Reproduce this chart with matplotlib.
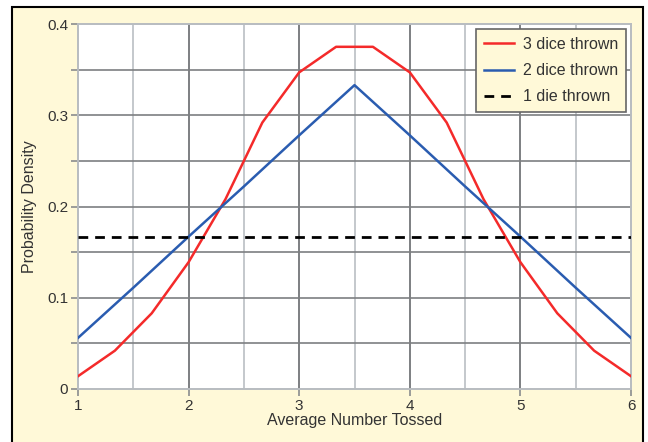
import matplotlib
matplotlib.use("Agg")
import matplotlib.pyplot as plt
from matplotlib.patches import Rectangle

plt.rcParams['font.family'] = ['Liberation Sans', 'DejaVu Sans']

x3 = [1, 4/3, 5/3, 2, 7/3, 8/3, 3, 10/3, 11/3, 4, 13/3, 14/3, 5, 16/3, 17/3, 6]
y3 = [0.014, 0.042, 0.083, 0.139, 0.208, 0.292, 0.347, 0.375, 0.375, 0.347,
      0.292, 0.208, 0.139, 0.083, 0.042, 0.014]
x2 = [1, 1.5, 2, 2.5, 3, 3.5, 4, 4.5, 5, 5.5, 6]
y2 = [0.056, 0.111, 0.167, 0.222, 0.278, 0.333, 0.278, 0.222, 0.167, 0.111, 0.056]
x1 = [1, 6]
y1 = [0.1667, 0.1667]
xticks = [1, 2, 3, 4, 5, 6]
yticks = [0, 0.1, 0.2, 0.3, 0.4]
yticklabels = ['0', '0.1', '0.2', '0.3', '0.4']

bg = '#fff9d8'
fig = plt.figure(figsize=(6.48, 4.42), dpi=100)
fig.patch.set_facecolor('white')
fig.patches.append(Rectangle((12/648, -0.05), (643-12)/648, 1 - 7/442 + 0.05,
                             transform=fig.transFigure, facecolor=bg,
                             edgecolor='black', linewidth=1.5, zorder=-10))

ax = fig.add_axes([78/648, 1 - 389/442, (631-78)/648, (389-24)/442])
ax.set_facecolor('white')
ax.set_xlim(1, 6)
ax.set_ylim(0, 0.4)

# grid
for v in [1.5, 2.5, 3.5, 4.5, 5.5]:
    ax.axvline(v, color='#c4c8cc', lw=1.4, zorder=1)
for v in [2, 3, 4, 5]:
    ax.axvline(v, color='#7d7f82', lw=1.4, zorder=1)
for v in [0.05, 0.1, 0.15, 0.2, 0.25, 0.3, 0.35]:
    ax.axhline(v, color='#7d7f82', lw=1.2, zorder=1)

ax.plot(x3, y3, color='#f42a2a', lw=1.8, label='3 dice thrown', zorder=3)
ax.plot(x2, y2, color='#2a5cb0', lw=1.8, label='2 dice thrown', zorder=3)
ax.plot(x1, y1, color='black', lw=2.0, ls=(0, (3.5, 2.5)), label='1 die thrown', zorder=3)

ax.set_xticks(xticks)
ax.set_yticks(yticks)
ax.set_yticklabels(yticklabels)
ax.set_yticks([0.05, 0.15, 0.25, 0.35], minor=True)
ax.tick_params(axis='both', which='both', length=5, width=1.2, color='#8a8c8e',
               labelsize=11, labelcolor='#333333', pad=2)
for s in ax.spines.values():
    s.set_color('#b8bcc0')
    s.set_linewidth(1.4)

ax.set_xlabel('Average Number Tossed', fontsize=11.5, color='#333333', labelpad=0)
ax.set_ylabel('Probability Density', fontsize=11.5, color='#333333', labelpad=7)

leg = ax.legend(loc='upper right', fontsize=11.5, frameon=True, fancybox=False,
                facecolor=bg, edgecolor='#666666', framealpha=1,
                handlelength=1.9, handletextpad=0.55, labelspacing=0.7,
                borderpad=0.5, borderaxespad=0,
                bbox_to_anchor=((626-78)/553, (389-29)/365))
leg.get_frame().set_linewidth(1.2)
for t in leg.get_texts():
    t.set_color('#333333')

fig.savefig('out.png', dpi=100)
